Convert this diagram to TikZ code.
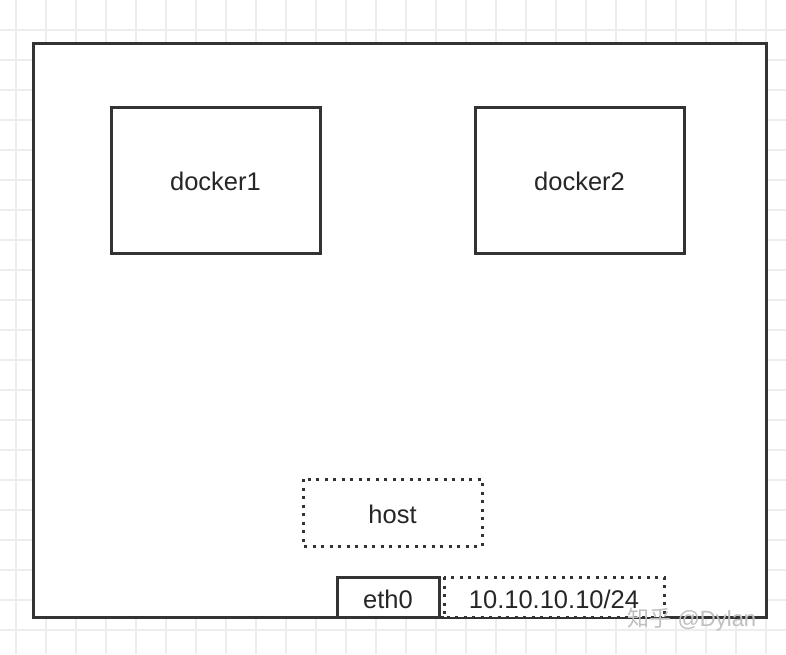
\documentclass[tikz,border=0pt]{standalone}
\usepackage{fontspec}
\setmainfont{Liberation Sans}
\newfontfamily\cjk{Noto Sans CJK SC}
\begin{document}
\begin{tikzpicture}[x=1pt,y=-1pt,
  box/.style={draw=black!80,line width=3pt,fill=white},
  dotbox/.style={draw=black!80,line width=3pt,dash pattern=on 3pt off 5.5pt,fill=white},
  lbl/.style={font=\fontsize{25.5}{29}\selectfont,text=black!85},
  gridline/.style={draw=black!7,line width=1.5pt}]
\useasboundingbox (0,0) rectangle (786,654);
\fill[white] (0,0) rectangle (786,654);
\foreach \i in {0,...,26} {\draw[gridline] (16+30*\i,0) -- (16+30*\i,654);}
\foreach \j in {1,...,21} {\draw[gridline] (0,30*\j) -- (786,30*\j);}
\draw[box] (33,43) rectangle (766,617);
\draw[box] (111,107) rectangle (320,253);
\node[lbl] (d1) at (215.5,181) {docker1};
\draw[box] (475,107) rectangle (684,253);
\node[lbl] (d2) at (579.5,181) {docker2};
\draw[dotbox] (303,479) rectangle (482,546);
\node[lbl] (host) at (392.5,514) {host};
\draw[box] (337,577) rectangle (439,617);
\node[lbl] (eth) at (388,599) {eth0};
\draw[dotbox] (444,577) rectangle (664,617);
\node[lbl] (ip) at (554,599) {10.10.10.10/24};
\node[font=\fontsize{22}{26}\selectfont,text=black!25,anchor=west] (wm) at (624,620) {{\cjk 知乎} @Dylan};
\end{tikzpicture}
\end{document}
